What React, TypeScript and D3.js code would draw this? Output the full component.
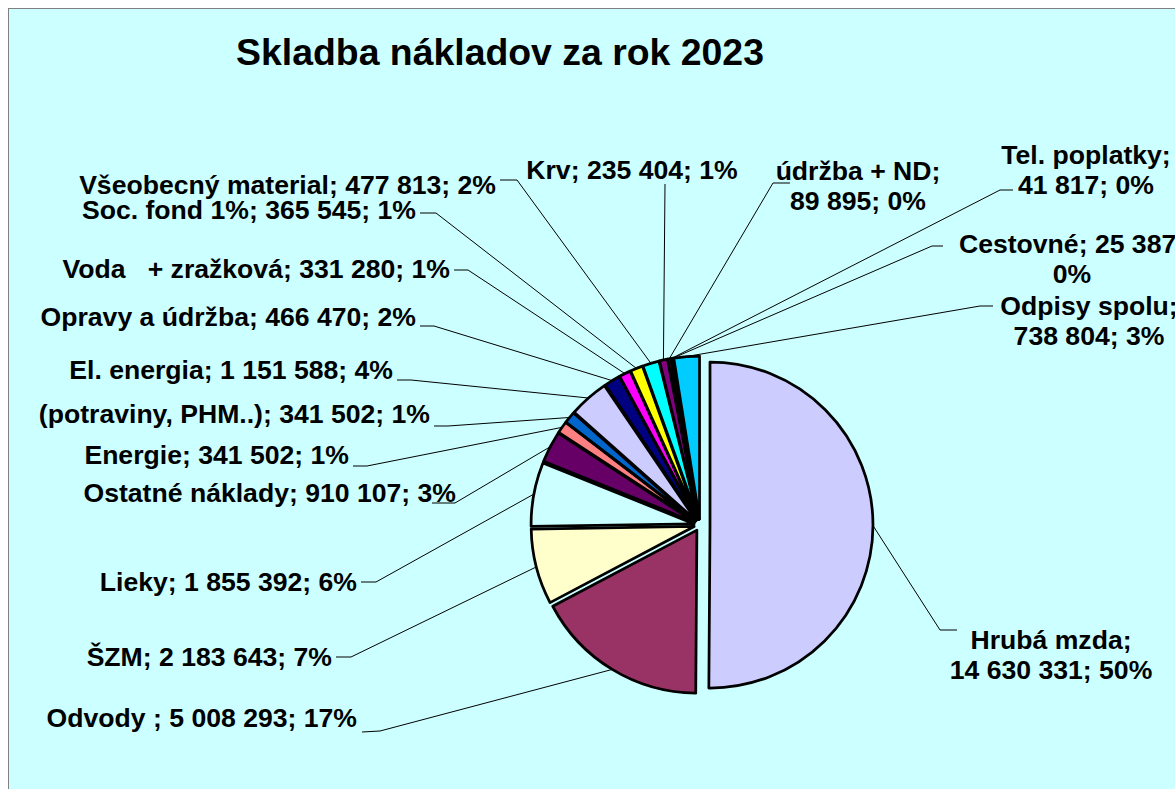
import React from 'react';
import * as d3 from 'd3';

const title = 'Skladba nákladov za rok 2023';
const categories = ['Hrubá mzda', 'Odvody ', 'ŠZM', 'Lieky', 'Ostatné náklady', 'Energie', '(potraviny, PHM..)', 'El. energia', 'Opravy a údržba', 'Voda   + zražková', 'Soc. fond 1%', 'Všeobecný material', 'Krv', 'údržba + ND', 'Tel. poplatky', 'Cestovné', 'Odpisy spolu'];
const values = [14630331, 5008293, 2183643, 1855392, 910107, 341502, 341502, 1151588, 466470, 331280, 365545, 477813, 235404, 89895, 41817, 25387, 738804];
const colors = ['#CCCCFF', '#993366', '#FFFFCC', '#CCFFFF', '#660066', '#FF8080', '#0066CC', '#CCCCFF', '#000080', '#FF00FF', '#FFFF00', '#00FFFF', '#800080', '#800000', '#008080', '#0000FF', '#00CCFF'];
const explode = [10, 6, 6, 6, 6, 6, 6, 6, 6, 6, 6, 6, 6, 6, 6, 6, 6];

// label layout (page coordinates): x, first baseline, anchor, parts on first line, elbow point, tail point
type L = { x: number; y: number; a: 'start' | 'middle' | 'end'; split: number; elbow: [number, number]; tail: [number, number] };
const layout: L[] = [
  { x: 1051, y: 649, a: 'middle', split: 1, elbow: [940, 630], tail: [957, 630] },
  { x: 357, y: 727, a: 'end', split: 3, elbow: [380, 731], tail: [362, 732] },
  { x: 332, y: 666, a: 'end', split: 3, elbow: [351, 657], tail: [336, 657] },
  { x: 357, y: 591, a: 'end', split: 3, elbow: [376, 582], tail: [361, 582] },
  { x: 456, y: 502, a: 'end', split: 3, elbow: [455, 503], tail: [432, 503] },
  { x: 349, y: 464, a: 'end', split: 3, elbow: [367, 466], tail: [353, 466] },
  { x: 430, y: 423, a: 'end', split: 3, elbow: [448, 426], tail: [434, 426] },
  { x: 393, y: 379, a: 'end', split: 3, elbow: [411, 380], tail: [397, 380] },
  { x: 416, y: 326, a: 'end', split: 3, elbow: [434, 326], tail: [420, 326] },
  { x: 450, y: 278, a: 'end', split: 3, elbow: [468, 270], tail: [454, 270] },
  { x: 416, y: 219, a: 'end', split: 3, elbow: [436, 213], tail: [420, 213] },
  { x: 496, y: 194, a: 'end', split: 3, elbow: [517, 180], tail: [500, 180] },
  { x: 632, y: 179, a: 'middle', split: 3, elbow: [665, 184], tail: [665, 184] },
  { x: 858, y: 180, a: 'middle', split: 1, elbow: [773, 183], tail: [790, 183] },
  { x: 1086, y: 164, a: 'middle', split: 1, elbow: [1000, 190], tail: [1013, 190] },
  { x: 1072, y: 253, a: 'middle', split: 2, elbow: [932, 246], tail: [943, 246] },
  { x: 1089, y: 315, a: 'middle', split: 1, elbow: [980, 306], tail: [993, 306] },
];

const W = 1167;
const H = 781;
const CX = 692;
const CY = 517;
const R = 163;
const FS = 26.6;
const LH = 30;
const FONT = '"Liberation Sans", Arial, Helvetica, sans-serif';

export default function App() {
  const total = d3.sum(values);
  const fmt = (v: number) => d3.format(',')(v).replace(/,/g, ' ');
  const pie = d3.pie<number>().sort(null).value((d) => d).startAngle(0).endAngle(2 * Math.PI);
  const arcs = pie(values);
  const arcGen = d3.arc<d3.PieArcDatum<number>>().innerRadius(0).outerRadius(R);

  return (
    <svg width={W} height={H} style={{ position: 'absolute', left: 8, top: 8, display: 'block' }} fontFamily={FONT}>
      <rect x={0.5} y={0.5} width={W + 10} height={H + 10} fill="#CCFFFF" stroke="#808080" strokeWidth={1} />
      <text x={492} y={57} textAnchor="middle" fontSize={37.4} fontWeight="bold" fill="#000">{title}</text>
      {arcs.map((a, i) => {
        const mid = (a.startAngle + a.endAngle) / 2;
        const ox = Math.sin(mid) * explode[i];
        const oy = -Math.cos(mid) * explode[i];
        return (
          <g key={'s' + i} transform={`translate(${CX + ox},${CY + oy})`}>
            <path d={arcGen(a) || ''} fill={colors[i]} stroke="#000" strokeWidth={2.75} strokeLinejoin="round" />
          </g>
        );
      })}
      {arcs.map((a, i) => {
        const mid = (a.startAngle + a.endAngle) / 2;
        const e = explode[i];
        const px = CX + Math.sin(mid) * (R + e);
        const py = CY - Math.cos(mid) * (R + e);
        const L = layout[i];
        const pct = Math.round((values[i] / total) * 100);
        const parts = [categories[i], fmt(values[i]), pct + '%'];
        const line1 = parts.slice(0, L.split).join('; ') + (L.split < 3 ? ';' : '');
        const line2 = parts.slice(L.split).join('; ');
        const pts = [[px, py], [L.elbow[0] - 8, L.elbow[1] - 8], [L.tail[0] - 8, L.tail[1] - 8]];
        return (
          <g key={'l' + i}>
            <polyline points={pts.map((p) => p.join(',')).join(' ')} fill="none" stroke="#000" strokeWidth={1} />
            <text x={L.x - 8} y={L.y - 8} textAnchor={L.a} fontSize={FS} fontWeight="bold" fill="#000" style={{ whiteSpace: 'pre' }}>
              {line1}
            </text>
            {line2 && L.split < 3 && (
              <text x={L.x - 8} y={L.y - 8 + LH} textAnchor={L.a} fontSize={FS} fontWeight="bold" fill="#000" style={{ whiteSpace: 'pre' }}>
                {line2}
              </text>
            )}
          </g>
        );
      })}
    </svg>
  );
}
